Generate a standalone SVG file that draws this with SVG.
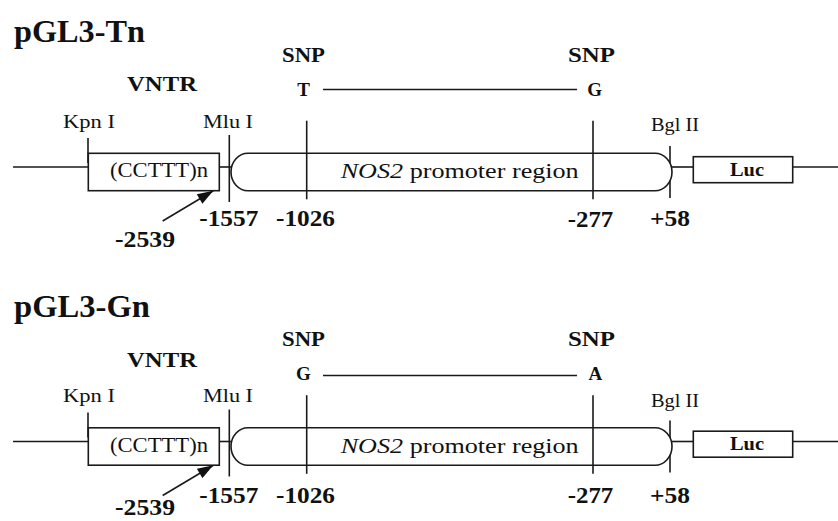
<svg xmlns="http://www.w3.org/2000/svg" width="838" height="521" viewBox="0 0 838 521">
<style>
  .ln{stroke:#1a1a1a;stroke-width:1.6;fill:none}
  .box{stroke:#1a1a1a;stroke-width:1.6;fill:#fff}
  text{font-family:"Liberation Serif","Times New Roman",serif;fill:#111}
  .title{font-size:32px;font-weight:bold}
  .lbl{font-size:21px;font-weight:bold}
  .al{font-size:19px;font-weight:bold}
  .site{font-size:19px}
  .seq{font-size:21px}
  .num{font-size:23px;font-weight:bold}
  .luc{font-size:19px;font-weight:bold}
</style>
<defs>
  <marker id="ah2" viewBox="0 0 16 11" refX="16" refY="5.5" markerWidth="17" markerHeight="11" markerUnits="userSpaceOnUse" orient="auto">
    <path d="M0,0 L16,5.5 L0,11 z" fill="#111"/>
  </marker>
</defs>

<!-- Panel 1 -->
<g id="panel-Tn">
  <text id="title-Tn" class="title" x="14" y="42" textLength="131" lengthAdjust="spacingAndGlyphs">pGL3-Tn</text>
  <g id="connectors-Tn">
    <line class="ln" x1="13" y1="167" x2="88.3" y2="167"/>
    <line class="ln" x1="219.3" y1="167" x2="231" y2="167"/>
    <line class="ln" x1="672" y1="167" x2="693.3" y2="167"/>
    <line class="ln" x1="792.7" y1="167" x2="838" y2="167"/>
    <line class="ln" x1="323" y1="89.5" x2="577" y2="89.5"/>
    <line class="ln" x1="88" y1="138" x2="88" y2="163"/>
    <line class="ln" x1="229.3" y1="135" x2="229.3" y2="202"/>
    <line class="ln" x1="306.7" y1="120.7" x2="306.7" y2="199.3"/>
    <line class="ln" x1="593" y1="120.7" x2="593" y2="199.3"/>
    <line class="ln" x1="670" y1="146" x2="670" y2="198"/>
    <line class="ln" x1="162.7" y1="221" x2="213.3" y2="190.7" stroke-width="2" marker-end="url(#ah2)"/>
  </g>
  <g id="vntr-Tn">
    <text class="lbl" x="127" y="91" textLength="70" lengthAdjust="spacingAndGlyphs">VNTR</text>
    <rect class="box" x="88.3" y="153.3" width="131" height="37.4"/>
    <text class="seq" x="110" y="177" textLength="98" lengthAdjust="spacingAndGlyphs">(CCTTT)n</text>
  </g>
  <g id="promoter-Tn">
    <rect class="box" x="231" y="153.3" width="441" height="37.4" rx="17" ry="18.7"/>
    <line class="ln" x1="306.7" y1="153.3" x2="306.7" y2="190.7"/>
    <line class="ln" x1="593" y1="153.3" x2="593" y2="190.7"/>
    <text class="seq" x="340.7" y="178" textLength="238" lengthAdjust="spacingAndGlyphs"><tspan font-style="italic">NOS2</tspan> promoter region</text>
  </g>
  <g id="luc-Tn">
    <rect class="box" x="693.3" y="156.7" width="99.4" height="26"/>
    <text class="luc" x="730" y="175.5" textLength="34" lengthAdjust="spacingAndGlyphs">Luc</text>
  </g>
  <g id="sites-Tn">
    <text class="site" x="63" y="128" textLength="52" lengthAdjust="spacingAndGlyphs">Kpn I</text>
    <text class="site" x="203" y="128" textLength="50" lengthAdjust="spacingAndGlyphs">Mlu I</text>
    <text class="site" x="651" y="131" textLength="48" lengthAdjust="spacingAndGlyphs">Bgl II</text>
  </g>
  <g id="snp-Tn">
    <text class="lbl" x="282" y="62" textLength="43" lengthAdjust="spacingAndGlyphs">SNP</text>
    <text class="lbl" x="568" y="62" textLength="47" lengthAdjust="spacingAndGlyphs">SNP</text>
    <text class="al" x="303.5" y="96" text-anchor="middle">T</text>
    <text class="al" x="594.7" y="96" text-anchor="middle">G</text>
  </g>
  <g id="nums-Tn">
    <text class="num" x="115" y="246.7" textLength="60" lengthAdjust="spacingAndGlyphs">-2539</text>
    <text class="num" x="199.3" y="226" textLength="59" lengthAdjust="spacingAndGlyphs">-1557</text>
    <text class="num" x="276" y="226" textLength="59" lengthAdjust="spacingAndGlyphs">-1026</text>
    <text class="num" x="567.7" y="226.5" textLength="45.6" lengthAdjust="spacingAndGlyphs">-277</text>
    <text class="num" x="650" y="226" textLength="40" lengthAdjust="spacingAndGlyphs">+58</text>
  </g>
</g>

<!-- Panel 2 -->
<g id="panel-Gn">
  <text id="title-Gn" class="title" x="14" y="317" textLength="136" lengthAdjust="spacingAndGlyphs">pGL3-Gn</text>
  <g transform="translate(0,274.5)">
    <g id="connectors-Gn">
      <line class="ln" x1="13" y1="167" x2="88.3" y2="167"/>
      <line class="ln" x1="219.3" y1="167" x2="231" y2="167"/>
      <line class="ln" x1="672" y1="167" x2="693.3" y2="167"/>
      <line class="ln" x1="792.7" y1="167" x2="838" y2="167"/>
      <line class="ln" x1="323" y1="101" x2="577" y2="101"/>
      <line class="ln" x1="88" y1="138" x2="88" y2="163"/>
      <line class="ln" x1="229.3" y1="135" x2="229.3" y2="202"/>
      <line class="ln" x1="306.7" y1="120.7" x2="306.7" y2="199.3"/>
      <line class="ln" x1="593" y1="120.7" x2="593" y2="199.3"/>
      <line class="ln" x1="670" y1="146" x2="670" y2="198"/>
      <line class="ln" x1="162.7" y1="221" x2="213.3" y2="190.7" stroke-width="2" marker-end="url(#ah2)"/>
    </g>
    <g id="vntr-Gn">
      <text class="lbl" x="127" y="92" textLength="70" lengthAdjust="spacingAndGlyphs">VNTR</text>
      <rect class="box" x="88.3" y="153.3" width="131" height="37.4"/>
      <text class="seq" x="110" y="177" textLength="98" lengthAdjust="spacingAndGlyphs">(CCTTT)n</text>
    </g>
    <g id="promoter-Gn">
      <rect class="box" x="231" y="153.3" width="441" height="37.4" rx="17" ry="18.7"/>
      <line class="ln" x1="306.7" y1="153.3" x2="306.7" y2="190.7"/>
      <line class="ln" x1="593" y1="153.3" x2="593" y2="190.7"/>
      <text class="seq" x="340.7" y="178" textLength="238" lengthAdjust="spacingAndGlyphs"><tspan font-style="italic">NOS2</tspan> promoter region</text>
    </g>
    <g id="luc-Gn">
      <rect class="box" x="693.3" y="156.7" width="99.4" height="26"/>
      <text class="luc" x="730" y="175.5" textLength="34" lengthAdjust="spacingAndGlyphs">Luc</text>
    </g>
    <g id="sites-Gn">
      <text class="site" x="63" y="127.5" textLength="52" lengthAdjust="spacingAndGlyphs">Kpn I</text>
      <text class="site" x="203" y="127.5" textLength="50" lengthAdjust="spacingAndGlyphs">Mlu I</text>
      <text class="site" x="651" y="132" textLength="48" lengthAdjust="spacingAndGlyphs">Bgl II</text>
    </g>
    <g id="snp-Gn">
      <text class="lbl" x="282" y="71.5" textLength="43" lengthAdjust="spacingAndGlyphs">SNP</text>
      <text class="lbl" x="568" y="71.5" textLength="47" lengthAdjust="spacingAndGlyphs">SNP</text>
      <text class="al" x="303.5" y="105" text-anchor="middle">G</text>
      <text class="al" x="595.3" y="105" text-anchor="middle">A</text>
    </g>
    <g id="nums-Gn">
      <text class="num" x="115" y="240.5" textLength="60" lengthAdjust="spacingAndGlyphs">-2539</text>
      <text class="num" x="199.3" y="228" textLength="59" lengthAdjust="spacingAndGlyphs">-1557</text>
      <text class="num" x="276" y="228" textLength="59" lengthAdjust="spacingAndGlyphs">-1026</text>
      <text class="num" x="567.7" y="228" textLength="45.6" lengthAdjust="spacingAndGlyphs">-277</text>
      <text class="num" x="650" y="228" textLength="40" lengthAdjust="spacingAndGlyphs">+58</text>
    </g>
  </g>
</g>
</svg>
